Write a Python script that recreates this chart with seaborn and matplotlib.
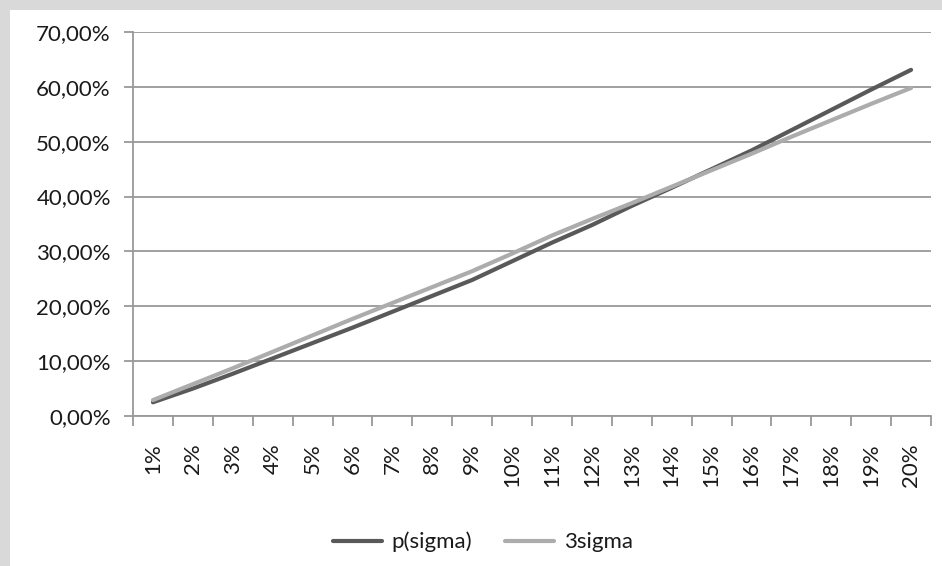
import matplotlib
matplotlib.use("Agg")
import matplotlib.pyplot as plt
from matplotlib.patches import Rectangle
from matplotlib.ticker import FuncFormatter
import seaborn as sns
import pandas as pd
import numpy as np

categories = ["1%", "2%", "3%", "4%", "5%", "6%", "7%", "8%", "9%", "10%",
              "11%", "12%", "13%", "14%", "15%", "16%", "17%", "18%", "19%", "20%"]
p_sigma = [2.5, 5.0, 7.7, 10.5, 13.3, 16.1, 19.0, 21.9, 24.8, 28.2,
           31.6, 34.8, 38.3, 41.6, 45.0, 48.4, 52.1, 55.8, 59.5, 63.1]
three_sigma = [2.9, 5.8, 8.7, 11.7, 14.7, 17.7, 20.6, 23.5, 26.4, 29.6,
               32.9, 35.9, 38.8, 41.8, 44.8, 47.8, 50.9, 53.9, 56.9, 59.8]
series_names = ["p(sigma)", "3sigma"]
y_ticks = [0, 10, 20, 30, 40, 50, 60, 70]

df = pd.DataFrame({
    "cat": categories * 2,
    "value": p_sigma + three_sigma,
    "series": [series_names[0]] * len(categories) + [series_names[1]] * len(categories),
})

sns.set_theme(style="white")
plt.rcParams["font.family"] = ["Lato", "DejaVu Sans"]

W, H = 942, 566
fig = plt.figure(figsize=(W / 100, H / 100), dpi=100, facecolor="#d9d9d9")
fig.patches.append(Rectangle((10 / W, 0), 1 - 10 / W, 1 - 10 / H,
                             transform=fig.transFigure, facecolor="white",
                             edgecolor="none", zorder=-5))
ax = fig.add_axes([133 / W, 150 / H, 798 / W, 384 / H])
ax.set_zorder(1)
ax.set_facecolor("white")

grid_c = "#999999"
text_c = "#1a1a1a"
palette = {"p(sigma)": "#595959", "3sigma": "#acacac"}
fs = 16

sns.lineplot(data=df, x="cat", y="value", hue="series", palette=palette,
             linewidth=3.0, ax=ax, sort=False, solid_capstyle="round",
             legend=False)

ax.set_xlim(-0.5, len(categories) - 0.5)
ax.set_ylim(0, 70)
ax.set_yticks(y_ticks)
ax.yaxis.set_major_formatter(FuncFormatter(lambda v, _: f"{v:.2f}".replace(".", ",") + "%"))

ax.set_xticks(np.arange(-0.5, len(categories), 1.0))
ax.set_xticklabels([])
ax.set_xticks(np.arange(len(categories)), minor=True)
ax.set_xticklabels(categories, minor=True, rotation=90, va="top", ha="center")

ax.tick_params(axis="x", which="major", length=7.5, width=1.3, color=grid_c, direction="out", bottom=True)
ax.tick_params(axis="x", which="minor", length=0, pad=19.5, labelsize=fs, labelcolor=text_c, bottom=True)
ax.tick_params(axis="y", which="major", length=6.5, width=1.3, color=grid_c, direction="out",
               pad=9.5, labelsize=fs, labelcolor=text_c, left=True)

ax.yaxis.grid(True, color=grid_c, linewidth=1.3)
ax.xaxis.grid(False)
ax.set_axisbelow(True)
for s in ["top", "right"]:
    ax.spines[s].set_visible(False)
for s in ["left", "bottom"]:
    ax.spines[s].set_color(grid_c)
    ax.spines[s].set_linewidth(1.3)
ax.set_xlabel("")
ax.set_ylabel("")

handles = [plt.Line2D([], [], color=palette[n], linewidth=3.0) for n in series_names]
fig.legend(handles, series_names, loc="center", bbox_to_anchor=(483 / W, 24 / H),
           ncol=2, frameon=False, handlelength=2.2, handletextpad=0.45,
           columnspacing=1.5, fontsize=fs, labelcolor=text_c)

fig.savefig("out.png", dpi=100, facecolor=fig.get_facecolor())
